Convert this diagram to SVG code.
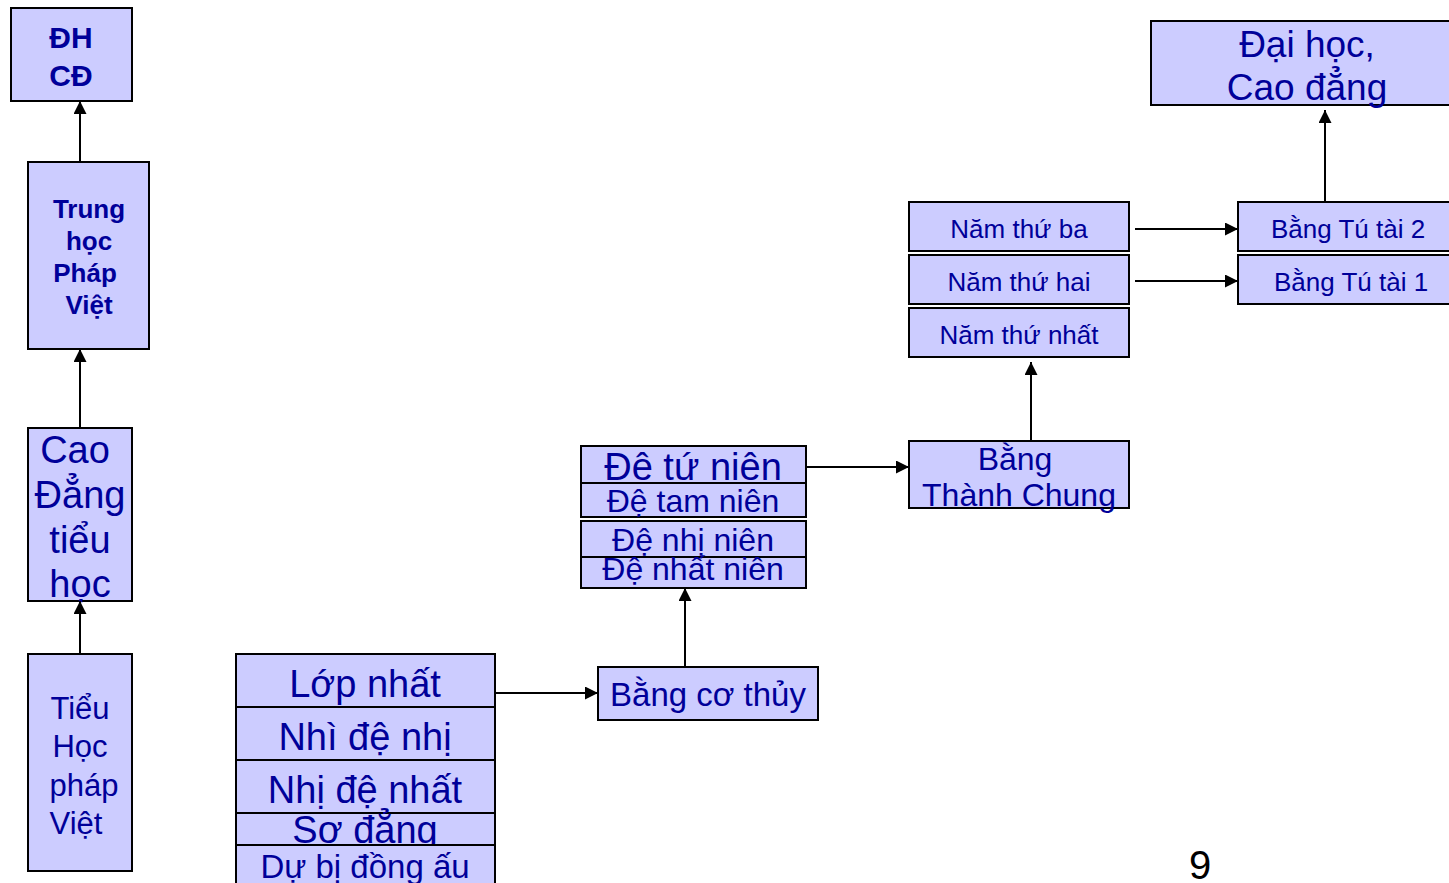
<svg xmlns="http://www.w3.org/2000/svg" width="1449" height="883" viewBox="0 0 1449 883">
<defs>
<marker id="ah" viewBox="0 0 10 10" refX="10" refY="5" markerWidth="15" markerHeight="13" markerUnits="userSpaceOnUse" orient="auto"><path d="M0,0 L10,5 L0,10 z" fill="#000"/></marker>
<style>
rect{fill:#ccccff;stroke:#000;stroke-width:2}
text{font-family:"Liberation Sans",Arial,sans-serif;fill:#000099;text-anchor:middle}
.b{font-weight:bold}
.c line{stroke:#000;stroke-width:2;marker-end:url(#ah)}
</style>
</defs>
<rect x="0" y="0" width="1449" height="883" style="fill:#fff;stroke:none"/>
<g id="dhcd"><rect x="11" y="8" width="121" height="93"/><text class="b" x="71" y="48" font-size="30">ĐH</text><text class="b" x="71" y="86" font-size="30">CĐ</text></g>
<g id="trunghoc"><rect x="28" y="162" width="121" height="187"/><text class="b" font-size="26"><tspan x="89" y="218">Trung</tspan><tspan x="89" y="250">học</tspan><tspan x="85" y="282">Pháp</tspan><tspan x="89" y="314">Việt</tspan></text></g>
<g id="caodang"><rect x="28" y="428" width="104" height="173"/><text font-size="38"><tspan x="75" y="463">Cao</tspan><tspan x="80" y="508">Đẳng</tspan><tspan x="80" y="553">tiểu</tspan><tspan x="80" y="597">học</tspan></text></g>
<g id="tieuhoc"><rect x="28" y="654" width="104" height="217"/><text font-size="31"><tspan x="80" y="719">Tiểu</tspan><tspan x="80" y="757">Học</tspan><tspan x="84" y="796">pháp</tspan><tspan x="76" y="834">Việt</tspan></text></g>
<g id="lopnhat"><rect x="236" y="654" width="259" height="53"/><text x="365" y="697" font-size="38">Lớp nhất</text></g>
<g id="nhidenhi"><rect x="236" y="707" width="259" height="53"/><text x="365" y="750" font-size="38">Nhì đệ nhị</text></g>
<g id="nhidenhat"><rect x="236" y="760" width="259" height="53"/><text x="365" y="803" font-size="38">Nhị đệ nhất</text></g>
<g id="sodang"><rect x="236" y="813" width="259" height="32"/><text x="365" y="843" font-size="38">Sơ đẳng</text></g>
<g id="dubi"><rect x="236" y="845" width="259" height="50"/><text x="365" y="878" font-size="33">Dự bị đồng ấu</text></g>
<g id="bangcothuy"><rect x="598" y="667" width="220" height="53"/><text x="708" y="706" font-size="33">Bằng cơ thủy</text></g>
<g id="detunien"><rect x="581" y="446" width="225" height="37"/><text x="693" y="480" font-size="38">Đệ tứ niên</text></g>
<g id="detamnien"><rect x="581" y="483" width="225" height="34"/><text x="693" y="512" font-size="32">Đệ tam niên</text></g>
<g id="dehinien"><rect x="581" y="521" width="225" height="36"/><text x="693" y="551" font-size="32">Đệ nhị niên</text></g>
<g id="denhatnien"><rect x="581" y="557" width="225" height="31"/><text x="693" y="580" font-size="32">Đệ nhất niên</text></g>
<g id="thanhchung"><rect x="909" y="441" width="220" height="67"/><text font-size="32"><tspan x="1015" y="470">Bằng</tspan><tspan x="1019" y="506">Thành Chung</tspan></text></g>
<g id="namba"><rect x="909" y="202" width="220" height="49"/><text x="1019" y="238" font-size="26">Năm thứ ba</text></g>
<g id="namhai"><rect x="909" y="255" width="220" height="49"/><text x="1019" y="291" font-size="26">Năm thứ hai</text></g>
<g id="namnhat"><rect x="909" y="308" width="220" height="49"/><text x="1019" y="344" font-size="26">Năm thứ nhất</text></g>
<g id="tutai2"><rect x="1238" y="202" width="220" height="49"/><text x="1348" y="238" font-size="26">Bằng Tú tài 2</text></g>
<g id="tutai1"><rect x="1238" y="255" width="220" height="49"/><text x="1351" y="291" font-size="26">Bằng Tú tài 1</text></g>
<g id="daihoc"><rect x="1151" y="21" width="310" height="84"/><text font-size="37"><tspan x="1307" y="57">Đại học,</tspan><tspan x="1307" y="100">Cao đẳng</tspan></text></g>
<g class="c" id="connectors">
<line x1="80" y1="162" x2="80" y2="101"/>
<line x1="80" y1="428" x2="80" y2="349"/>
<line x1="80" y1="654" x2="80" y2="601"/>
<line x1="495" y1="693" x2="598" y2="693"/>
<line x1="685" y1="667" x2="685" y2="588"/>
<line x1="806" y1="467" x2="909" y2="467"/>
<line x1="1031" y1="441" x2="1031" y2="362"/>
<line x1="1135" y1="229" x2="1238" y2="229"/>
<line x1="1135" y1="281" x2="1238" y2="281"/>
<line x1="1325" y1="202" x2="1325" y2="110"/>
</g>
<text x="1200" y="879" font-size="40" style="fill:#000">9</text>
</svg>
